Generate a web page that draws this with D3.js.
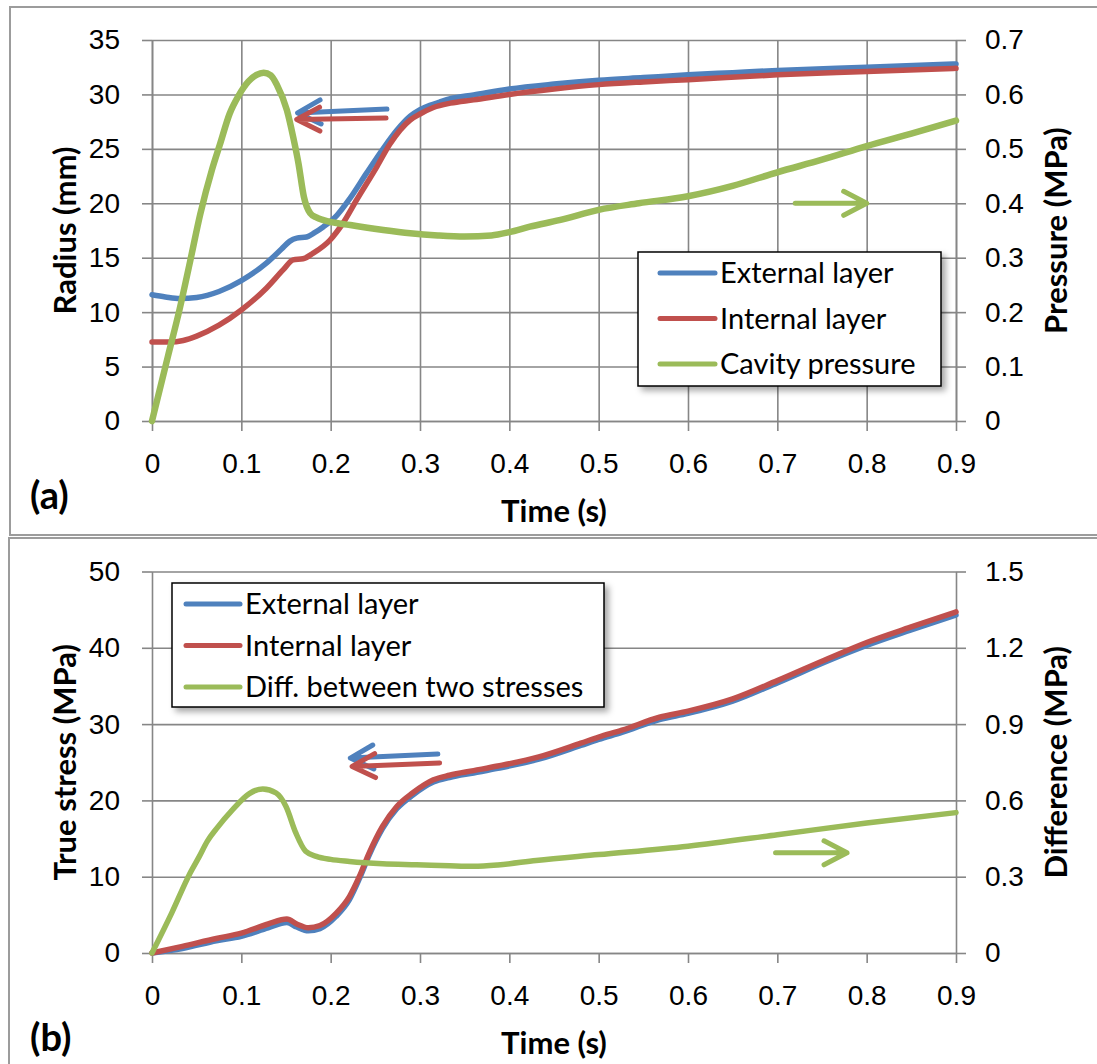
<!DOCTYPE html>
<html>
<head>
<meta charset="utf-8">
<script src="https://cdn.jsdelivr.net/npm/d3@7"></script>
<style>
  body { margin: 0; background: #fff; }
  svg { display: block; font-family: Lato, 'Open Sans', sans-serif; }
  .axis text { font-size: 28px; fill: #000; }
  .axis path, .axis line { stroke: #868686; stroke-width: 1.6; }
  .grid path { display: none; }
  .grid line { stroke: #868686; stroke-width: 1.6; }
  .title { font-size: 31px; font-weight: bold; fill: #000; }
  .legend text { font-size: 29px; fill: #000; }
</style>
</head>
<body>
<div id="chart"></div>
<script>
// ---- data ----
var timeTicks = [0, 0.1, 0.2, 0.3, 0.4, 0.5, 0.6, 0.7, 0.8, 0.9];
var timeTickLabels = ['0', '0.1', '0.2', '0.3', '0.4', '0.5', '0.6', '0.7', '0.8', '0.9'];

// (a) radius / pressure
var radiusTicks = [0, 5, 10, 15, 20, 25, 30, 35];
var pressureTicks = [0, 0.1, 0.2, 0.3, 0.4, 0.5, 0.6, 0.7];
var pressureTickLabels = ['0', '0.1', '0.2', '0.3', '0.4', '0.5', '0.6', '0.7'];

var extRadiusT = [0, 0.015, 0.031, 0.05, 0.075, 0.1, 0.128, 0.145, 0.154, 0.162, 0.173, 0.182, 0.192, 0.207, 0.222, 0.24, 0.259, 0.274, 0.289, 0.3, 0.311, 0.322, 0.334, 0.36, 0.4, 0.45, 0.5, 0.55, 0.6, 0.65, 0.7, 0.8, 0.9];
var extRadius = [11.6, 11.4, 11.25, 11.35, 11.9, 12.9, 14.5, 15.8, 16.5, 16.8, 16.9, 17.3, 17.85, 18.9, 20.5, 22.75, 25.05, 26.7, 28.0, 28.6, 29.0, 29.3, 29.6, 29.95, 30.5, 30.95, 31.3, 31.55, 31.8, 32.0, 32.2, 32.5, 32.8];

var intRadiusT = [0, 0.02, 0.035, 0.05, 0.075, 0.1, 0.128, 0.147, 0.158, 0.169, 0.18, 0.199, 0.214, 0.229, 0.252, 0.266, 0.289, 0.3, 0.315, 0.334, 0.36, 0.4, 0.45, 0.5, 0.55, 0.6, 0.7, 0.8, 0.9];
var intRadius = [7.25, 7.25, 7.4, 7.8, 8.8, 10.2, 12.2, 13.9, 14.8, 14.9, 15.4, 16.6, 18.2, 20.3, 23.4, 25.4, 27.65, 28.2, 28.8, 29.2, 29.5, 30.0, 30.5, 30.9, 31.15, 31.35, 31.8, 32.1, 32.4];

var pressureT = [0, 0.018, 0.031, 0.0425, 0.054, 0.067, 0.076, 0.087, 0.097, 0.108, 0.117, 0.125, 0.133, 0.14, 0.151, 0.158, 0.164, 0.17, 0.177, 0.184, 0.192, 0.222, 0.259, 0.289, 0.32, 0.35, 0.38, 0.4, 0.423, 0.456, 0.5, 0.545, 0.6, 0.65, 0.7, 0.75, 0.8, 0.85, 0.9];
var pressure = [0, 0.12, 0.206, 0.292, 0.38, 0.461, 0.508, 0.565, 0.598, 0.624, 0.636, 0.64, 0.635, 0.617, 0.571, 0.522, 0.473, 0.412, 0.382, 0.374, 0.369, 0.36, 0.351, 0.345, 0.341, 0.339, 0.341, 0.347, 0.357, 0.369, 0.388, 0.4, 0.413, 0.432, 0.457, 0.48, 0.505, 0.528, 0.552];

// (b) stress / difference
var stressTicks = [0, 10, 20, 30, 40, 50];
var diffTicks = [0, 0.3, 0.6, 0.9, 1.2, 1.5];
var diffTickLabels = ['0', '0.3', '0.6', '0.9', '1.2', '1.5'];

var stressT = [0, 0.034, 0.072, 0.1, 0.13, 0.151, 0.162, 0.175, 0.188, 0.206, 0.221, 0.232, 0.243, 0.258, 0.274, 0.292, 0.315, 0.333, 0.36, 0.387, 0.433, 0.48, 0.5, 0.526, 0.568, 0.6, 0.65, 0.7, 0.757, 0.8, 0.849, 0.9];
var extStress = [0, 0.6, 1.6, 2.2, 3.3, 4.0, 3.4, 2.9, 3.2, 4.8, 7.0, 9.7, 12.8, 16.3, 18.9, 20.7, 22.4, 23.0, 23.6, 24.2, 25.4, 27.2, 28.0, 28.9, 30.6, 31.4, 33.0, 35.4, 38.3, 40.3, 42.3, 44.3];
var intStress = [0, 0.87, 1.9, 2.6, 3.8, 4.45, 3.8, 3.3, 3.6, 5.2, 7.4, 10.0, 13.1, 16.6, 19.2, 21.0, 22.7, 23.3, 23.9, 24.5, 25.7, 27.5, 28.3, 29.2, 30.9, 31.7, 33.3, 35.7, 38.6, 40.7, 42.7, 44.7];

var diffT = [0, 0.022, 0.042, 0.053, 0.062, 0.072, 0.09, 0.109, 0.124, 0.139, 0.15, 0.161, 0.172, 0.184, 0.2, 0.221, 0.258, 0.296, 0.333, 0.36, 0.387, 0.43, 0.5, 0.6, 0.7, 0.8, 0.9];
var diffStress = [0, 0.157, 0.31, 0.38, 0.44, 0.488, 0.563, 0.627, 0.645, 0.629, 0.576, 0.472, 0.4, 0.38, 0.368, 0.36, 0.351, 0.347, 0.343, 0.341, 0.346, 0.364, 0.387, 0.42, 0.465, 0.511, 0.552];

var blue = '#4f81bd', red = '#c0504d', green = '#9bbb59';

// ---- drawing ----
var svg = d3.select('#chart').append('svg')
    .attr('width', 1097)
    .attr('height', 1064);

var defs = svg.append('defs');
defs.append('filter').attr('id', 'shadow')
    .attr('x', '-10%').attr('y', '-10%').attr('width', '130%').attr('height', '140%')
    .append('feDropShadow')
    .attr('dx', 4).attr('dy', 4).attr('stdDeviation', 3)
    .attr('flood-color', '#000').attr('flood-opacity', 0.35);

var x = d3.scaleLinear().domain([0, 0.9]).range([152, 956]);

function drawPanel(p) {
    var g = svg.append('g');

    // panel frame
    g.append('rect')
        .attr('x', p.frame[0]).attr('y', p.frame[1])
        .attr('width', p.frame[2]).attr('height', p.frame[3])
        .attr('fill', '#fff')
        .attr('stroke', '#9c9c9c')
        .attr('stroke-width', 2);

    var yL = d3.scaleLinear().domain(p.leftDomain).range([p.bottom, p.top]);
    var yR = d3.scaleLinear().domain(p.rightDomain).range([p.bottom, p.top]);
    var w = x.range()[1] - x.range()[0];

    // grid lines
    g.append('g')
        .attr('class', 'grid')
        .attr('transform', 'translate(' + x.range()[0] + ',0)')
        .call(d3.axisLeft(yL).tickValues(p.leftTicks).tickSize(-w).tickFormat(''));
    if (p.vGrid) {
        g.append('g')
            .attr('class', 'grid')
            .attr('transform', 'translate(0,' + p.bottom + ')')
            .call(d3.axisBottom(x).tickValues(timeTicks).tickSize(-(p.bottom - p.top)).tickFormat(''));
    }

    // axes
    g.append('g')
        .attr('class', 'axis')
        .attr('transform', 'translate(0,' + p.bottom + ')')
        .call(d3.axisBottom(x).tickValues(timeTicks).tickSize(10).tickSizeOuter(0).tickPadding(22)
            .tickFormat(function (d, i) { return timeTickLabels[i]; }));
    g.append('g')
        .attr('class', 'axis')
        .attr('transform', 'translate(' + x.range()[0] + ',0)')
        .call(d3.axisLeft(yL).tickValues(p.leftTicks).tickSize(10).tickSizeOuter(0).tickPadding(22));
    g.append('g')
        .attr('class', 'axis')
        .attr('transform', 'translate(' + x.range()[1] + ',0)')
        .call(d3.axisRight(yR).tickValues(p.rightTicks).tickSize(10).tickSizeOuter(0).tickPadding(19)
            .tickFormat(function (d, i) { return p.rightTickLabels[i]; }));
    g.selectAll('.axis .tick text').attr('fill', '#000');

    // series
    p.series.forEach(function (s) {
        var ys = s.right ? yR : yL;
        var line = d3.line()
            .x(function (d) { return x(d[0]); })
            .y(function (d) { return ys(d[1]); })
            .curve(d3.curveMonotoneX);
        g.append('path')
            .datum(d3.zip(s.t, s.v))
            .attr('fill', 'none')
            .attr('stroke', s.color)
            .attr('stroke-width', s.width)
            .attr('stroke-linejoin', 'round')
            .attr('stroke-linecap', 'round')
            .attr('d', line);
    });

    // arrows pointing to the axis each series uses
    p.arrows.forEach(function (a) {
        var ys = a.right ? yR : yL;
        var x0 = x(a.from[0]), y0 = ys(a.from[1]);
        var x1 = x(a.to[0]), y1 = ys(a.to[1]);
        var ang = Math.atan2(y1 - y0, x1 - x0);
        var back = 23, half = 12;
        var bx = x1 - back * Math.cos(ang), by = y1 - back * Math.sin(ang);
        var px = -Math.sin(ang) * half, py = Math.cos(ang) * half;
        var path = d3.path();
        path.moveTo(x0, y0); path.lineTo(x1, y1);
        path.moveTo(bx + px, by + py); path.lineTo(x1, y1); path.lineTo(bx - px, by - py);
        g.append('path')
            .attr('d', path.toString())
            .attr('fill', 'none')
            .attr('stroke', a.color)
            .attr('stroke-width', 5)
            .attr('stroke-linecap', 'round')
            .attr('stroke-linejoin', 'round');
    });

    // legend
    var lg = g.append('g').attr('class', 'legend');
    lg.append('rect')
        .attr('x', p.legend.x).attr('y', p.legend.y)
        .attr('width', p.legend.w).attr('height', p.legend.h)
        .attr('fill', '#fff')
        .attr('stroke', '#000')
        .attr('stroke-width', 1.5)
        .attr('filter', 'url(#shadow)');
    p.series.forEach(function (s, i) {
        var cy = p.legend.y + p.legend.row0 + i * p.legend.step;
        lg.append('line')
            .attr('x1', p.legend.x + p.legend.lx0).attr('x2', p.legend.x + p.legend.lx1)
            .attr('y1', cy).attr('y2', cy)
            .attr('stroke', s.color).attr('stroke-width', 5).attr('stroke-linecap', 'round');
        lg.append('text')
            .attr('x', p.legend.x + p.legend.tx)
            .attr('y', cy)
            .attr('dy', '0.35em')
            .text(s.name);
    });

    // axis titles
    var midY = (p.top + p.bottom) / 2;
    g.append('text').attr('class', 'title')
        .attr('transform', 'translate(65,' + midY + ') rotate(-90)')
        .attr('text-anchor', 'middle').attr('dy', '0.35em')
        .text(p.leftTitle);
    g.append('text').attr('class', 'title')
        .attr('transform', 'translate(1056,' + midY + ') rotate(-90)')
        .attr('text-anchor', 'middle').attr('dy', '0.35em')
        .text(p.rightTitle);
    g.append('text').attr('class', 'title')
        .attr('x', 554).attr('y', p.bottom + 90)
        .attr('text-anchor', 'middle').attr('dy', '0.35em')
        .text('Time (s)');
    g.append('text').attr('class', 'title')
        .attr('x', 30).attr('y', p.bottom + p.tagDy)
        .attr('dy', '0.35em')
        .style('font-size', '38px')
        .text(p.tag);
}

drawPanel({
    frame: [10, 7, 1100, 528],
    top: 40, bottom: 421,
    leftDomain: [0, 35], rightDomain: [0, 0.7],
    leftTicks: radiusTicks, rightTicks: pressureTicks, rightTickLabels: pressureTickLabels,
    vGrid: true,
    leftTitle: 'Radius (mm)', rightTitle: 'Pressure (MPa)',
    tag: '(a)', tagDy: 75,
    series: [
        { name: 'External layer', t: extRadiusT, v: extRadius, color: blue, width: 5.5 },
        { name: 'Internal layer', t: intRadiusT, v: intRadius, color: red, width: 5.5 },
        { name: 'Cavity pressure', t: pressureT, v: pressure, color: green, width: 6.5, right: true }
    ],
    arrows: [
        { from: [0.263, 28.66], to: [0.163, 28.3], color: blue },
        { from: [0.262, 27.83], to: [0.162, 27.7], color: red },
        { from: [0.72, 0.4], to: [0.8, 0.4], color: green, right: true }
    ],
    legend: { x: 638, y: 252, w: 303, h: 134, row0: 21, step: 45.5, lx0: 22, lx1: 77, tx: 82 }
});

drawPanel({
    frame: [9, 538, 1100, 540],
    top: 571.5, bottom: 953,
    leftDomain: [0, 50], rightDomain: [0, 1.5],
    leftTicks: stressTicks, rightTicks: diffTicks, rightTickLabels: diffTickLabels,
    vGrid: false,
    leftTitle: 'True stress (MPa)', rightTitle: 'Difference (MPa)',
    tag: '(b)', tagDy: 85,
    series: [
        { name: 'External layer', t: stressT, v: extStress, color: blue, width: 5.5 },
        { name: 'Internal layer', t: stressT, v: intStress, color: red, width: 5.5 },
        { name: 'Diff. between two stresses', t: diffT, v: diffStress, color: green, width: 5.5, right: true }
    ],
    arrows: [
        { from: [0.32, 26.07], to: [0.222, 25.55], color: blue },
        { from: [0.322, 24.9], to: [0.224, 24.45], color: red },
        { from: [0.698, 0.394], to: [0.778, 0.394], color: green, right: true }
    ],
    legend: { x: 172, y: 583, w: 432, h: 124, row0: 21, step: 41.5, lx0: 14, lx1: 68, tx: 73 }
});
</script>
</body>
</html>
